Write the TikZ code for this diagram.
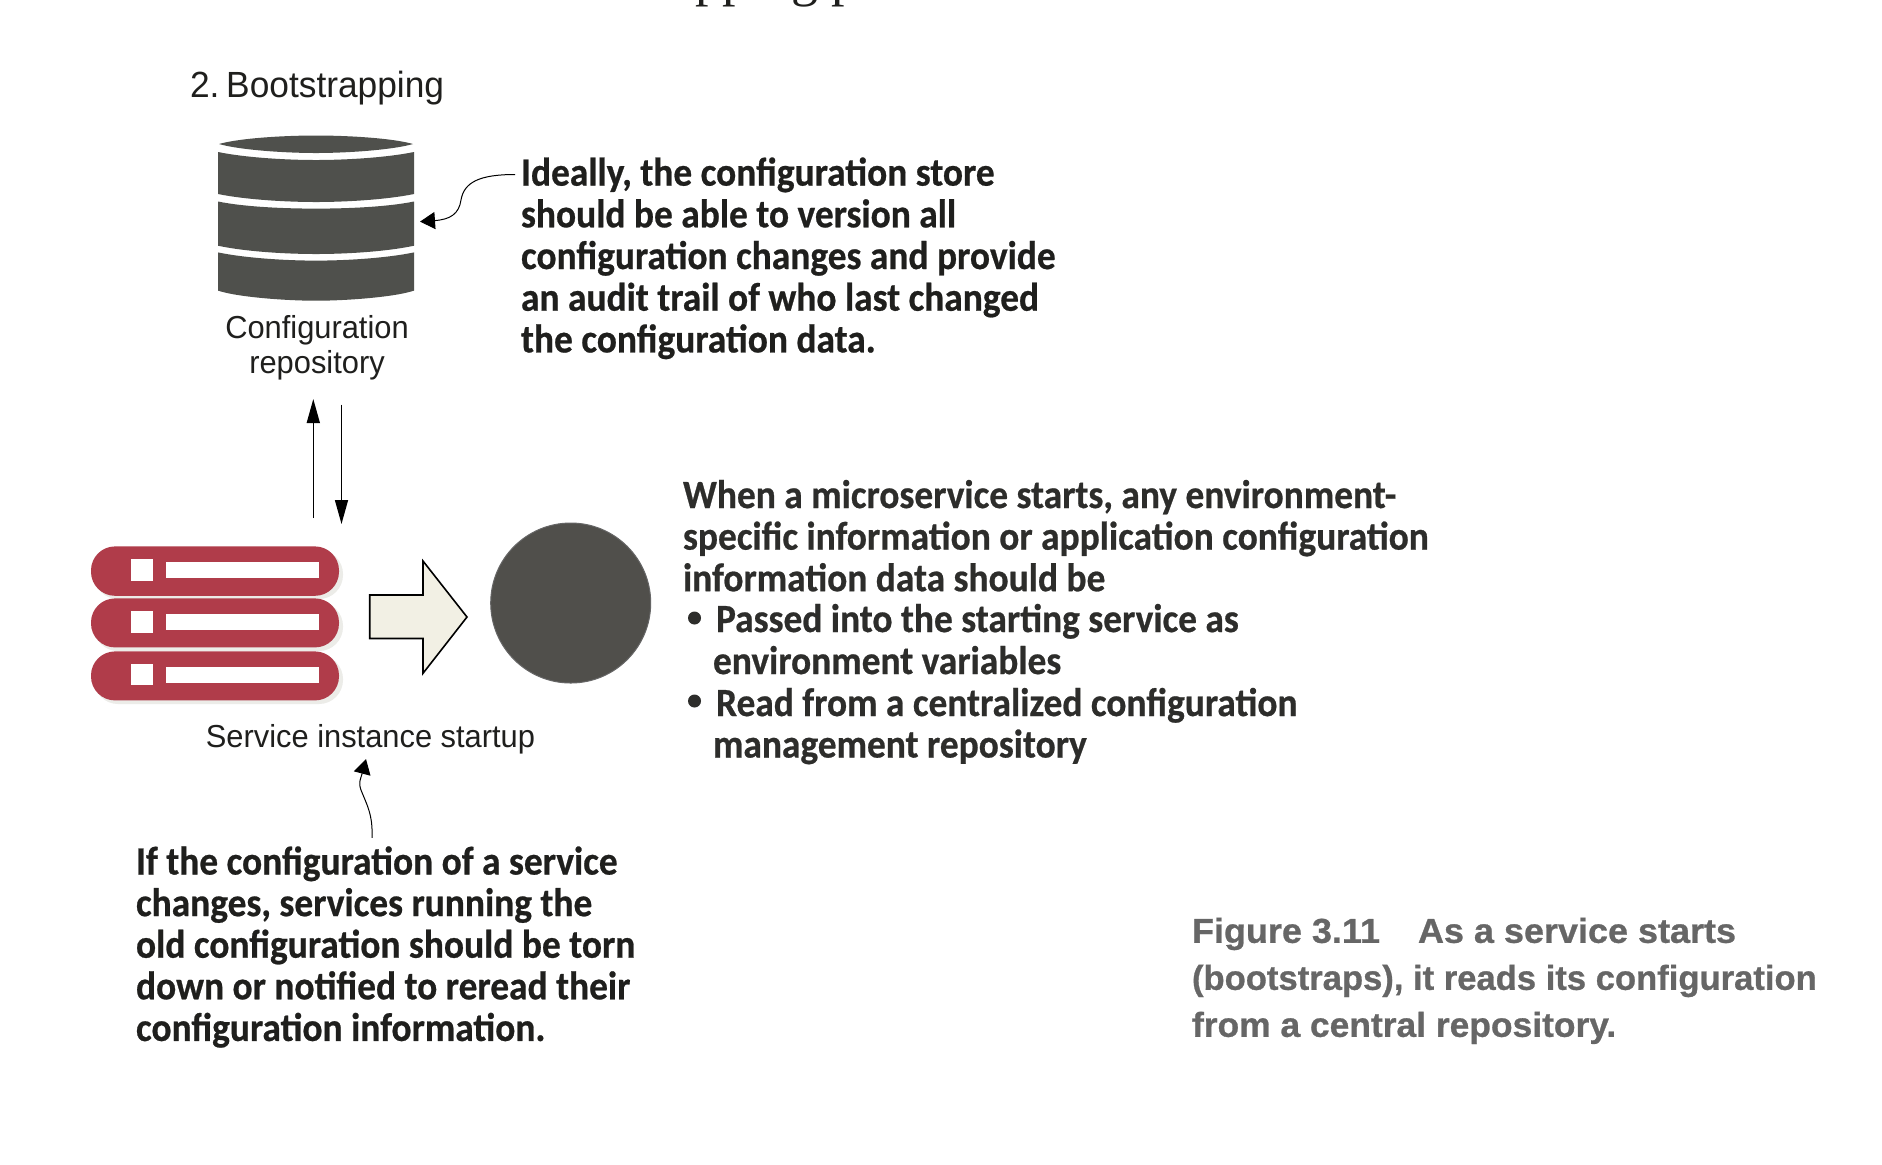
\documentclass[tikz,border=0pt]{standalone}
\usepackage{fontspec}
\usetikzlibrary{arrows.meta}
\setmainfont{Liberation Sans}
\newfontfamily\callout[FakeStretch=0.935,FakeBold=0.6,RawFeature={-calt;-dlig}]{Carlito Bold}
\newfontfamily\capfont[FakeBold=0.8]{Liberation Sans Bold}
\newfontfamily\capwide[FakeBold=0.8,FakeStretch=1.04]{Liberation Sans Bold}
\newfontfamily\capmid[FakeBold=0.8,FakeStretch=1.023]{Liberation Sans Bold}
\newfontfamily\labelfont[FakeStretch=0.97]{Liberation Sans}
\newfontfamily\headfont{Liberation Serif}
\definecolor{dbgrey}{HTML}{4F504C}
\definecolor{circgrey}{HTML}{504F4B}
\definecolor{srvred}{HTML}{B03C4A}
\definecolor{srvshadow}{HTML}{ECECE8}
\definecolor{arrfill}{HTML}{F2F0E4}
\definecolor{ink}{HTML}{1F1F1D}
\definecolor{inktwo}{HTML}{2D2D2B}
\definecolor{capgrey}{HTML}{666666}
\newcommand{\linesat}[2]{\vtop{\baselineskip=#1\lineskiplimit=-100pt\relax\halign{##\hfil\cr#2\crcr}}}
\tikzset{
  x=0.5pt,y=-0.5pt,
  txt/.style={anchor=base west,inner sep=0pt,outer sep=0pt},
  lbl/.style={anchor=base,inner sep=0pt,outer sep=0pt,text=ink,font=\labelfont\fontsize{15.9}{19}\selectfont},
  call/.style={txt,text=ink,font=\callout\fontsize{20}{20.8}\selectfont},
  dbpart/.style={fill=dbgrey,draw=none},
  srvbar/.style={rounded corners=12pt,fill=srvred,draw=none},
  srvshade/.style={rounded corners=12pt,fill=srvshadow,draw=none},
  srvmark/.style={fill=white,draw=none},
  thin arrow/.style={draw=black,line width=0.75pt,-{Triangle[length=12pt,width=6.5pt]}},
  curve arrow/.style={draw=black,line width=0.5pt,-{Triangle[length=7.5pt,width=8.5pt]}},
  bulletdot/.style={circle,fill=inktwo,minimum size=6.5pt,inner sep=0pt},
}
\begin{document}
\begin{tikzpicture}
\useasboundingbox (0,0) rectangle (1882,1164);
\fill[white] (0,0) rectangle (1882,1164);

% clipped running head
\node[txt,text=ink,font=\headfont\fontsize{27}{30}\selectfont] (head) at (695,-4.7) {pping p};

\node[txt,font=\labelfont\fontsize{18.2}{21}\selectfont,text=ink] (title) at (190,97) {2.\kern-1.5pt\ Bootstrapping};

% database
\fill[dbpart] (219,144) .. controls (240,138) and (285,135.5) .. (316,135.5) .. controls (347,135.5) and (392,138) .. (413,144) .. controls (392,150) and (347,153) .. (316,153) .. controls (285,153) and (240,150) .. (219,144) -- cycle;
\fill[dbpart] (218,152) .. controls (245,157.5) and (285,160) .. (316,160) .. controls (347,160) and (387,157.5) .. (414,152) -- (414,194) .. controls (387,199.5) and (347,202) .. (316,202) .. controls (285,202) and (245,199.5) .. (218,194) -- cycle;
\fill[dbpart] (218,201.5) .. controls (245,207) and (285,208.6) .. (316,208.6) .. controls (347,208.6) and (387,207) .. (414,201.5) -- (414,245.7) .. controls (387,251.5) and (347,254) .. (316,254) .. controls (285,254) and (245,251.5) .. (218,245.7) -- cycle;
\fill[dbpart] (218,252.4) .. controls (245,258) and (285,260.6) .. (316,260.6) .. controls (347,260.6) and (387,258) .. (414,252.4) -- (414,290.6) .. controls (395,297) and (347,300.7) .. (316,300.7) .. controls (285,300.7) and (237,297) .. (218,290.6) -- cycle;

\node[lbl] (repoA) at (317,338) {Configuration};
\node[lbl] (repoB) at (317,373) {repository};

% callout 1
\node[call] (noteA) at (521,185.6) {\linesat{20.85pt}{Ideally, the configuration store\cr should be able to version all\cr configuration changes and provide\cr an audit trail of who last changed\cr the configuration data.}};
\coordinate (noteAtail) at (515,174.5);
\coordinate (dbSide) at (420,221.6);
\draw[curve arrow] (noteAtail) .. controls (480,174.5) and (464,182) .. (461,200) .. controls (459,214) and (450,219.5) .. (dbSide);

% vertical arrows
\coordinate (upFrom) at (313.3,518);
\coordinate (upTo) at (313.3,399);
\coordinate (downFrom) at (341.5,404.6);
\coordinate (downTo) at (341.5,524);
\draw[thin arrow] (upFrom) -- (upTo);
\draw[thin arrow] (downFrom) -- (downTo);

% server stack
\fill[srvshade] (94,550) rectangle (343,599);
\fill[srvshade] (94,602) rectangle (343,651);
\fill[srvshade] (94,655) rectangle (343,704);
\fill[srvbar] (91,546.4) rectangle (339,595.8);
\fill[srvbar] (91,598.4) rectangle (339,647.4);
\fill[srvbar] (91,651.4) rectangle (339,700.4);
\fill[srvmark] (131,559.4) rectangle (152.5,580.5);
\fill[srvmark] (166,561.6) rectangle (319,578.3);
\fill[srvmark] (131,611.4) rectangle (152.5,632.5);
\fill[srvmark] (166,613.6) rectangle (319,630);
\fill[srvmark] (131,664) rectangle (152.5,685);
\fill[srvmark] (166,666.7) rectangle (319,683);

% block arrow
\draw[fill=arrfill,draw=black,line width=0.8pt,line join=miter] (369.7,595) -- (423,595) -- (423,561) -- (467,617) -- (423,673.3) -- (423,638.5) -- (369.7,638.5) -- cycle;

% circle
\node[circle,fill=circgrey,draw=black!60,line width=0.5pt,minimum size=80pt,inner sep=0pt] (svc) at (570.7,603) {};

\node[lbl] (startup) at (370.5,747.5) {Service instance startup};

% callout 2
\node[call,text=inktwo] (noteB) at (683,508) {\linesat{20.8pt}{When a microservice starts, any environment-\cr specific information or application configuration\cr information data should be}};
\node[bulletdot] (bulA) at (694.5,618) {};
\node[call,text=inktwo] (noteC) at (716,632) {Passed into the starting service as};
\node[call,text=inktwo] (noteD) at (713,674) {environment variables};
\node[bulletdot] (bulB) at (694.5,701) {};
\node[call,text=inktwo] (noteE) at (716,716) {Read from a centralized configuration};
\node[call,text=inktwo] (noteF) at (713,757.5) {management repository};

% callout 3
\coordinate (noteGtail) at (372,837.8);
\coordinate (startupTip) at (366,759);
\draw[curve arrow] (noteGtail) .. controls (373,815) and (367,805) .. (361,790) .. controls (358,782) and (361,778) .. (startupTip);
\node[call] (noteG) at (136,874.5) {\linesat{20.8pt}{If the configuration of a service\cr changes, services running the\cr old configuration should be torn\cr down or notified to reread their\cr configuration information.}};

% caption
\node[txt,text=capgrey,font=\capfont\fontsize{17.3}{23.5}\selectfont] (figcap) at (1192,942.8) {\linesat{23.5pt}{{\capwide Figure 3.11\hspace{19pt}As a service starts}\cr (bootstraps), it reads its configuration\cr {\capmid from a central repository.}}};
\end{tikzpicture}
\end{document}
